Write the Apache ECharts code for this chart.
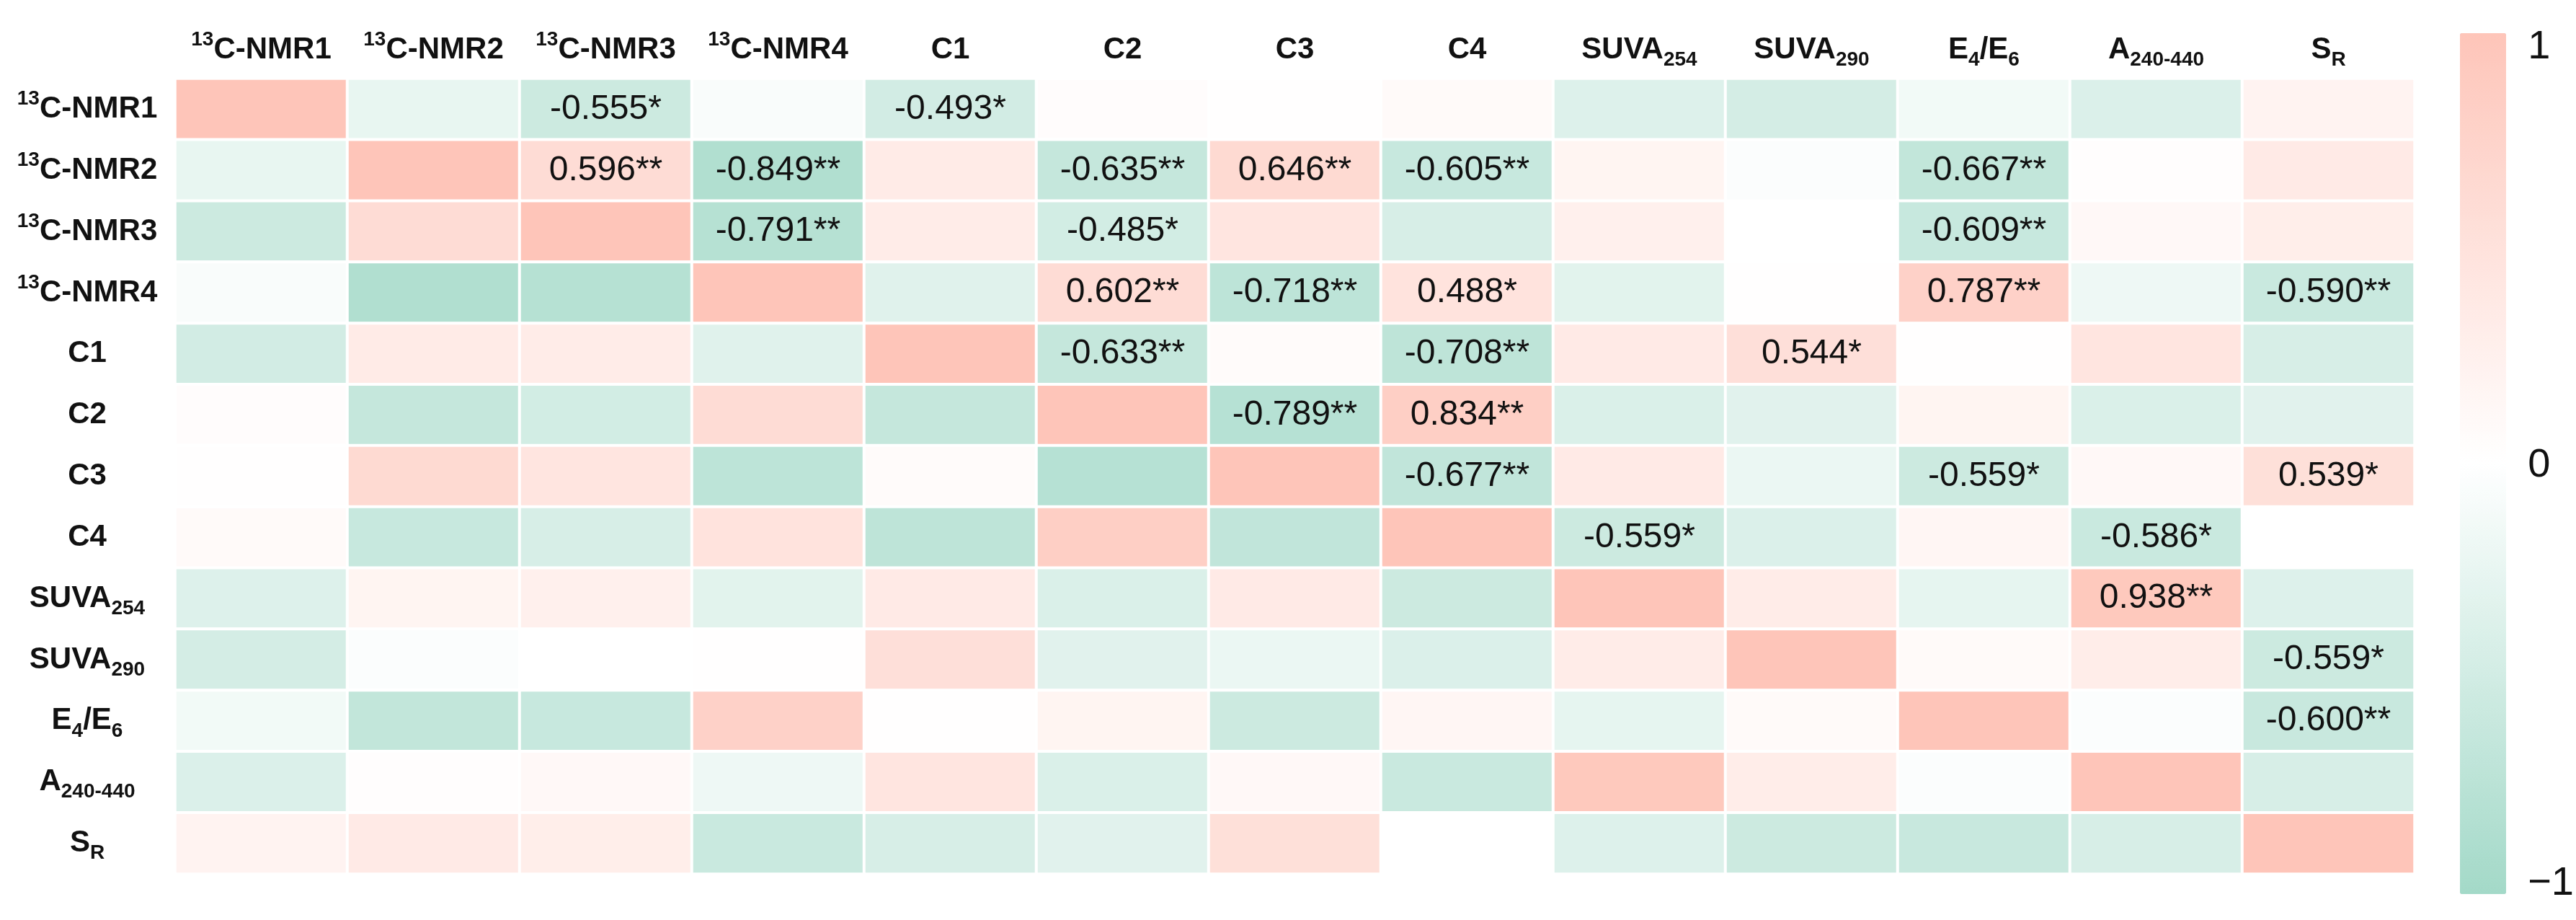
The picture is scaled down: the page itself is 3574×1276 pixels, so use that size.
<!DOCTYPE html>
<html><head><meta charset="utf-8">
<script src="https://cdn.jsdelivr.net/npm/echarts@6/dist/echarts.min.js"></script>
<style>html,body{margin:0;padding:0;background:#fff}#c{width:3574px;height:1276px}</style>
</head><body><div id="c"></div>
<script>
// Variable names (rows top->bottom, columns left->right)
const varNames = ['13C-NMR1','13C-NMR2','13C-NMR3','13C-NMR4','C1','C2','C3','C4','SUVA254','SUVA290','E4/E6','A240-440','SR'];

// Correlation matrix rows (unlabelled cells estimated from colour)
const rowNMR1 = [1, -0.25, -0.555, -0.07, -0.493, 0.05, 0.02, 0.08, -0.37, -0.47, -0.14, -0.39, 0.20];
const rowNMR2 = [-0.25, 1, 0.596, -0.849, 0.34, -0.635, 0.646, -0.605, 0.18, -0.04, -0.667, 0.03, 0.36];
const rowNMR3 = [-0.555, 0.596, 1, -0.791, 0.33, -0.485, 0.45, -0.44, 0.26, 0.00, -0.609, 0.12, 0.30];
const rowNMR4 = [-0.07, -0.849, -0.791, 1, -0.34, 0.602, -0.718, 0.488, -0.32, 0.02, 0.787, -0.18, -0.590];
const rowC1   = [-0.493, 0.34, 0.33, -0.34, 1, -0.633, 0.07, -0.708, 0.36, 0.544, 0.02, 0.45, -0.44];
const rowC2   = [0.05, -0.635, -0.485, 0.602, -0.633, 1, -0.789, 0.834, -0.40, -0.33, 0.18, -0.40, -0.33];
const rowC3   = [0.02, 0.646, 0.45, -0.718, 0.07, -0.789, 1, -0.677, 0.36, -0.22, -0.559, 0.12, 0.539];
const rowC4   = [0.08, -0.605, -0.44, 0.488, -0.708, 0.834, -0.677, 1, -0.559, -0.39, 0.16, -0.586, 0.00];
const rowS254 = [-0.37, 0.18, 0.26, -0.32, 0.36, -0.40, 0.36, -0.559, 1, 0.33, -0.27, 0.938, -0.37];
const rowS290 = [-0.47, -0.04, 0.00, 0.02, 0.544, -0.33, -0.22, -0.39, 0.33, 1, 0.08, 0.31, -0.559];
const rowE4E6 = [-0.14, -0.667, -0.609, 0.787, 0.02, 0.18, -0.559, 0.16, -0.27, 0.08, 1, -0.04, -0.600];
const rowA    = [-0.39, 0.03, 0.12, -0.18, 0.45, -0.40, 0.12, -0.586, 0.938, 0.31, -0.04, 1, -0.44];
const rowSR   = [0.20, 0.36, 0.30, -0.590, -0.44, -0.33, 0.539, 0.00, -0.37, -0.559, -0.600, -0.44, 1];
const corrRows = [rowNMR1,rowNMR2,rowNMR3,rowNMR4,rowC1,rowC2,rowC3,rowC4,rowS254,rowS290,rowE4E6,rowA,rowSR];

// Significance marks shown in the upper triangle: [row, col, stars]
const sigMarks = [
  [0,2,'*'],[0,4,'*'],
  [1,2,'**'],[1,3,'**'],[1,5,'**'],[1,6,'**'],[1,7,'**'],[1,10,'**'],
  [2,3,'**'],[2,5,'*'],[2,10,'**'],
  [3,5,'**'],[3,6,'**'],[3,7,'*'],[3,10,'**'],[3,12,'**'],
  [4,5,'**'],[4,7,'**'],[4,9,'*'],
  [5,6,'**'],[5,7,'**'],
  [6,7,'**'],[6,10,'*'],[6,12,'*'],
  [7,8,'*'],[7,11,'*'],
  [8,11,'**'],
  [9,12,'*'],
  [10,12,'**']
];
const scaleTicks = [-1, 0, 1];

const starMap = {};
sigMarks.forEach(([r, c, s]) => { starMap[r + '_' + c] = s; });
const heatData = [];
corrRows.forEach((row, r) => row.forEach((v, c) => heatData.push([c, r, v])));

function richName(n) {
  if (n.startsWith('13C')) return '{sup|13}' + n.slice(2);
  if (n === 'SUVA254') return 'SUVA{sub|254}';
  if (n === 'SUVA290') return 'SUVA{sub|290}';
  if (n === 'E4/E6') return 'E{sub|4}/E{sub|6}';
  if (n === 'A240-440') return 'A{sub|240-440}';
  if (n === 'SR') return 'S{sub|R}';
  return n;
}
const fam = "'Liberation Sans',Arial,sans-serif";
const labelStyle = {
  fontFamily: fam, fontWeight: 'bold', fontSize: 42, color: '#111', lineHeight: 56,
  rich: {
    sup: { fontFamily: fam, fontWeight: 'bold', fontSize: 28, color: '#111', lineHeight: 30, verticalAlign: 'top' },
    sub: { fontFamily: fam, fontWeight: 'bold', fontSize: 28, color: '#111', lineHeight: 30, verticalAlign: 'bottom' }
  }
};

const chart = echarts.init(document.getElementById('c'), null, { renderer: 'canvas' });
chart.setOption({
  animation: false,
  backgroundColor: '#ffffff',
  grid: [
    { left: 243, top: 109, width: 3107, height: 1103 },
    { left: 3413, top: 66, width: 64, height: 1160 }
  ],
  xAxis: [
    {
      type: 'category', data: varNames, position: 'top', gridIndex: 0,
      axisLine: { show: false }, axisTick: { show: false }, splitLine: { show: false },
      axisLabel: Object.assign({ margin: 12, interval: 0, formatter: richName }, labelStyle)
    },
    { type: 'value', gridIndex: 1, show: false, min: 0, max: 1 }
  ],
  yAxis: [
    {
      type: 'category', data: varNames, inverse: true, gridIndex: 0,
      axisLine: { show: false }, axisTick: { show: false }, splitLine: { show: false },
      axisLabel: Object.assign({ margin: 122, align: 'center', interval: 0, formatter: richName }, labelStyle)
    },
    {
      type: 'value', gridIndex: 1, position: 'right', min: -1, max: 1, interval: 1,
      axisLine: { show: false }, axisTick: { show: false }, splitLine: { show: false },
      axisLabel: {
        margin: 31, fontSize: 56, color: '#111', fontFamily: fam,
        formatter: v => (v < 0 ? '\u22121' : String(v)),
        customValues: scaleTicks
      }
    }
  ],
  visualMap: {
    type: 'continuous', min: -1, max: 1, seriesIndex: 0, calculable: false, hoverLink: false,
    orient: 'vertical', left: 3413, top: 46, itemWidth: 64, itemHeight: 1194, padding: 0,
    inRange: { color: ['#A3D9C8', '#FFFFFF', '#FEC5B9'] }
  },
  series: [{
    type: 'heatmap', xAxisIndex: 0, yAxisIndex: 0, data: heatData,
    itemStyle: { borderColor: '#ffffff', borderWidth: 4 },
    emphasis: { disabled: true },
    label: {
      show: true, color: '#111', fontSize: 48, fontFamily: fam,
      formatter: p => {
        const s = starMap[p.value[1] + '_' + p.value[0]];
        return s ? p.value[2].toFixed(3) + s : '';
      }
    }
  }]
});
</script></body></html>
